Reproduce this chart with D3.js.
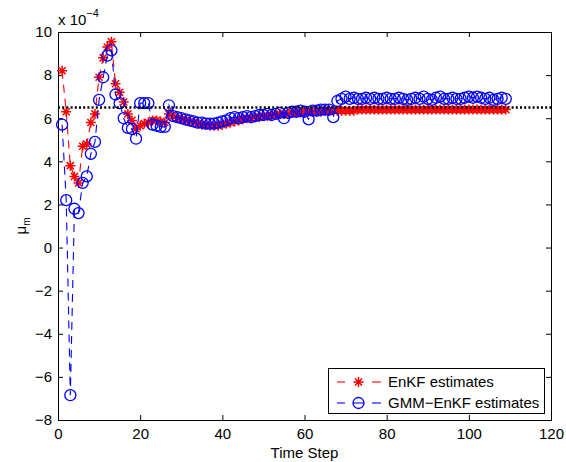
<!DOCTYPE html>
<html>
<head>
<meta charset="utf-8">
<script src="https://cdn.jsdelivr.net/npm/d3@7"></script>
<style>
  html, body { margin: 0; padding: 0; background: #fff; }
  svg { display: block; font-family: "Liberation Sans", Arial, Helvetica, sans-serif; }
</style>
</head>
<body>
<svg id="chart" width="566" height="462"></svg>
<script>
// Estimated parameter mu_m (units of 1e-4) for each filter, per time step
const timeSteps = d3.range(1, 110);

const enkfValues = [
  8.2, 6.3, 3.8, 3.3, 3.0, 4.7, 4.8, 5.8, 6.2, 7.9,
  8.8, 9.3, 9.55, 7.6, 7.2, 6.75, 6.2, 5.9, 5.5, 5.65,
  5.75, 5.8, 5.9, 5.9, 5.85, 5.8, 6.2, 6.1, 6.0, 5.95,
  5.9, 5.85, 5.8, 5.75, 5.7, 5.7, 5.65, 5.65, 5.65, 5.7,
  5.75, 5.8, 5.85, 5.9, 5.95, 6.0, 6.0, 6.05, 6.05, 6.1,
  6.1, 6.15, 6.15, 6.2, 6.2, 6.2, 6.25, 6.25, 6.25, 6.3,
  6.3, 6.3, 6.3, 6.3, 6.35, 6.35, 6.35, 6.35, 6.35, 6.35,
  6.35, 6.35, 6.4, 6.4, 6.4, 6.4, 6.4, 6.4, 6.4, 6.4,
  6.4, 6.4, 6.4, 6.4, 6.4, 6.4, 6.4, 6.4, 6.4, 6.4,
  6.4, 6.4, 6.4, 6.4, 6.4, 6.4, 6.4, 6.4, 6.4, 6.4,
  6.4, 6.4, 6.4, 6.4, 6.4, 6.4, 6.4, 6.4, 6.4
];

const gmmValues = [
  5.7, 2.2, -6.85, 1.8, 1.6, 3.0, 3.3, 4.35, 4.9, 6.85,
  7.9, 8.9, 9.15, 7.1, 6.7, 6.0, 5.55, 5.5, 5.05, 6.7,
  6.7, 6.7, 5.7, 5.65, 5.6, 5.6, 6.6, 6.1, 6.05, 6.0,
  5.95, 5.9, 5.85, 5.8, 5.8, 5.75, 5.75, 5.75, 5.8, 5.85,
  5.9, 6.0, 6.05, 6.0, 6.05, 6.1, 6.05, 6.1, 6.15, 6.15,
  6.2, 6.15, 6.2, 6.25, 6.0, 6.25, 6.3, 6.3, 6.35, 6.3,
  5.95, 6.35, 6.35, 6.4, 6.4, 6.4, 6.05, 6.8, 6.9, 7.0,
  6.9, 6.95, 6.9, 6.9, 6.95, 6.9, 6.95, 6.9, 6.9, 6.95,
  6.9, 6.9, 6.95, 6.9, 6.85, 6.9, 6.95, 6.9, 7.0, 6.9,
  6.85, 6.95, 7.0, 6.9, 6.9, 6.95, 6.9, 6.9, 6.95, 7.0,
  6.95, 7.0, 6.95, 6.9, 6.95, 6.85, 6.9, 6.95, 6.9
];

const trueValue = 6.5;

const xTicks = [0, 20, 40, 60, 80, 100, 120];
const yTicks = [-8, -6, -4, -2, 0, 2, 4, 6, 8, 10];
const seriesNames = ["EnKF estimates", "GMM\u2212EnKF estimates"];

const svg = d3.select("#chart");
const plotLeft = 58, plotRight = 551, plotTop = 32, plotBottom = 420;
const fontSize = 15;

const x = d3.scaleLinear().domain([0, 120]).range([plotLeft, plotRight]);
const y = d3.scaleLinear().domain([-8, 10]).range([plotBottom, plotTop]);

const fmt = v => (v < 0 ? "\u2212" + Math.abs(v) : String(v));

// Axes with inward ticks on all four sides (boxed frame)
const tickLen = 5;
svg.append("g").attr("transform", `translate(0,${plotBottom})`)
  .call(d3.axisBottom(x).tickValues(xTicks).tickSize(-tickLen).tickPadding(8).tickFormat(fmt));
svg.append("g").attr("transform", `translate(0,${plotTop})`)
  .call(d3.axisTop(x).tickValues(xTicks).tickSize(-tickLen).tickFormat(""));
svg.append("g").attr("transform", `translate(${plotLeft},0)`)
  .call(d3.axisLeft(y).tickValues(yTicks).tickSize(-tickLen).tickPadding(6).tickFormat(fmt));
svg.append("g").attr("transform", `translate(${plotRight},0)`)
  .call(d3.axisRight(y).tickValues(yTicks).tickSize(-tickLen).tickFormat(""));

svg.selectAll(".domain").attr("stroke", "#000").attr("stroke-width", 1);
svg.selectAll(".tick line").attr("stroke", "#000");
svg.selectAll(".tick text").attr("font-size", fontSize).attr("fill", "#000")
  .attr("font-family", "'Liberation Sans', Arial, sans-serif");

// Exponent annotation above the y axis
const expo = svg.append("text").attr("x", plotLeft).attr("y", 25)
  .attr("font-size", fontSize).attr("fill", "#000");
expo.append("tspan").text("x 10");
expo.append("tspan").attr("dy", -8).attr("font-size", 11).text("\u22124");

// Axis titles
svg.append("text").attr("x", (plotLeft + plotRight) / 2).attr("y", 458)
  .attr("text-anchor", "middle").attr("font-size", fontSize).text("Time Step");
const yl = svg.append("text")
  .attr("transform", `translate(26,${(plotTop + plotBottom) / 2}) rotate(-90)`)
  .attr("text-anchor", "middle").attr("font-size", fontSize);
yl.append("tspan").text("\u03bc");
yl.append("tspan").attr("dy", 4).attr("font-size", 10).text("m");

const plot = svg.append("g");
const line = d3.line().x(d => x(d[0])).y(d => y(d[1]));

const enkf = timeSteps.map((t, i) => [t, enkfValues[i]]);
const gmm = timeSteps.map((t, i) => [t, gmmValues[i]]);

// Asterisk marker path (plus + cross)
function asteriskPath(r) {
  const d = r * Math.SQRT1_2;
  return `M${-r},0L${r},0M0,${-r}L0,${r}M${-d},${-d}L${d},${d}M${-d},${d}L${d},${-d}`;
}

// EnKF series: red dashed with asterisks
plot.append("path").datum(enkf).attr("d", line)
  .attr("fill", "none").attr("stroke", "#f00").attr("stroke-width", 1.1)
  .attr("stroke-dasharray", "8,6");
plot.append("g").selectAll("path").data(enkf).join("path")
  .attr("transform", d => `translate(${x(d[0])},${y(d[1])})`)
  .attr("d", asteriskPath(5))
  .attr("stroke", "#f00").attr("stroke-width", 1.5).attr("fill", "none");

// GMM-EnKF series: blue dashed with open circles
plot.append("path").datum(gmm).attr("d", line)
  .attr("fill", "none").attr("stroke", "#00f").attr("stroke-width", 1.1)
  .attr("stroke-dasharray", "8,6");
plot.append("g").selectAll("circle").data(gmm).join("circle")
  .attr("cx", d => x(d[0])).attr("cy", d => y(d[1])).attr("r", 5.5)
  .attr("stroke", "#00f").attr("stroke-width", 1.3).attr("fill", "none");

// Reference (true) value: black dotted line across the axes
plot.append("line")
  .attr("x1", x(0)).attr("x2", x(120)).attr("y1", y(trueValue)).attr("y2", y(trueValue))
  .attr("stroke", "#000").attr("stroke-width", 2.4).attr("stroke-dasharray", "2,2.2");

// Legend
const lg = svg.append("g");
lg.append("rect").attr("x", 328.5).attr("y", 368.5).attr("width", 216).attr("height", 45)
  .attr("fill", "#fff").attr("stroke", "#000").attr("stroke-width", 1);
const legendRows = [
  { name: seriesNames[0], color: "#f00", marker: "star", cy: 382 },
  { name: seriesNames[1], color: "#00f", marker: "circle", cy: 403 }
];
legendRows.forEach(r => {
  lg.append("line").attr("x1", 337).attr("x2", 345).attr("y1", r.cy).attr("y2", r.cy)
    .attr("stroke", r.color).attr("stroke-width", 1.1);
  lg.append("line").attr("x1", 372).attr("x2", 381).attr("y1", r.cy).attr("y2", r.cy)
    .attr("stroke", r.color).attr("stroke-width", 1.1);
  if (r.marker === "star") {
    lg.append("path").attr("transform", `translate(358.5,${r.cy})`).attr("d", asteriskPath(5))
      .attr("stroke", r.color).attr("stroke-width", 1.5).attr("fill", "none");
  } else {
    lg.append("circle").attr("cx", 358.5).attr("cy", r.cy).attr("r", 5.5)
      .attr("stroke", r.color).attr("stroke-width", 1.3).attr("fill", "none");
    lg.append("line").attr("x1", 353).attr("x2", 364).attr("y1", r.cy).attr("y2", r.cy)
      .attr("stroke", r.color).attr("stroke-width", 1.1);
  }
  lg.append("text").attr("x", 388).attr("y", r.cy + 5).attr("font-size", fontSize)
    .attr("fill", "#000").text(r.name);
});
</script>
</body>
</html>
